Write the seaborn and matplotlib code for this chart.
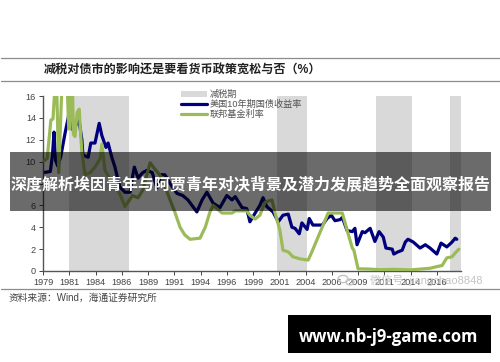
import matplotlib

matplotlib.use("Agg")

import matplotlib.pyplot as plt
import seaborn as sns
from matplotlib.lines import Line2D
from matplotlib.patches import Circle, Patch, Rectangle

W, H = 500, 362

TITLE = "减税对债市的影响还是要看货币政策宽松与否（%）"
SOURCE = "资料来源：Wind，海通证券研究所"
BANNER = "深度解析埃因青年与阿贾青年对决背景及潜力发展趋势全面观察报告"
SITE = "www.nb-j9-game.com"
WATERMARK = "微信号: jiangchao8848"
LEGEND_LABELS = ["减税期", "美国10年期国债收益率", "联邦基金利率"]

TICK_POS = [1979, 1981.5, 1984, 1986.5, 1989, 1991.5, 1994, 1996.5,
            1999, 2001.5, 2004, 2006.5, 2009, 2011.5, 2014, 2016.5]
TICK_LABELS = ["1979", "1981", "1984", "1986", "1989", "1991", "1994", "1996",
               "1999", "2001", "2004", "2006", "2009", "2011", "2014", "2016"]
Y_TICKS = [0, 2, 4, 6, 8, 10, 12, 14, 16]

CUT_START = [1981.5, 2001.3, 2010.7, 2017.8]
CUT_END = [1987.2, 2004.1, 2014.1, 2018.85]

T10_YEAR = [1979.0, 1979.4, 1979.7, 1979.9, 1980.05, 1980.2, 1980.4, 1980.7, 1981.1, 1981.4,
            1981.55, 1981.85, 1982.25, 1982.35, 1982.7, 1982.8, 1983.3, 1983.55, 1983.95, 1984.35,
            1984.6, 1985.0, 1985.2, 1985.55, 1985.85, 1986.3, 1986.8, 1987.3, 1987.5, 1987.7,
            1988.05, 1988.5, 1988.9, 1989.4, 1989.85, 1990.25, 1990.6, 1991.1, 1991.75, 1992.3,
            1992.8, 1993.65, 1994.15, 1994.6, 1995.2, 1995.85, 1996.5, 1997.0, 1997.3, 1997.95,
            1998.4, 1998.7, 1999.2, 1999.65, 1999.95, 2000.3, 2000.9, 2001.4, 2001.85, 2002.35,
            2002.7, 2003.0, 2003.4, 2003.65, 2004.15, 2004.35, 2004.7, 2005.2, 2005.6, 2006.05,
            2006.45, 2006.8, 2007.3, 2007.5, 2007.95, 2008.45, 2008.7, 2008.9, 2009.4, 2009.65,
            2010.15, 2010.6, 2011.0, 2011.4, 2011.65, 2012.25, 2012.4, 2012.8, 2013.2, 2013.5,
            2013.75, 2014.25, 2014.9, 2015.4, 2015.85, 2016.5, 2016.9, 2017.45, 2017.95, 2018.25,
            2018.4]
T10_RATE = [9.0, 9.05, 9.1, 10.6, 12.7, 10.1, 9.6, 10.5, 12.6, 14.0,
            15.2, 12.9, 13.5, 14.3, 12.0, 10.6, 10.4, 11.7, 11.7, 13.5,
            12.4, 11.3, 11.7, 10.4, 9.5, 7.7, 7.2, 7.2, 8.5, 9.5,
            8.5, 9.0, 9.2, 9.0, 7.6, 8.8, 8.8, 8.0, 7.1, 6.9,
            6.5, 5.4, 6.5, 7.2, 6.2, 5.8, 6.9, 6.5, 6.8, 5.8,
            5.7, 4.5, 5.3, 6.0, 6.7, 5.9, 5.4, 4.5, 5.1, 5.2,
            4.0, 3.9, 3.4, 4.4, 3.8, 4.8, 4.2, 4.2, 4.2, 4.8,
            5.1, 4.6, 4.7, 4.9, 3.7, 3.6, 3.9, 2.4, 3.6, 3.5,
            3.9, 2.7, 3.6, 3.1, 2.1, 2.0, 1.55, 1.75, 1.9, 2.65,
            2.9, 2.65, 2.1, 2.4, 2.1, 1.55, 2.55, 2.2, 2.65, 3.0,
            2.9]

FED_YEAR = [1979.0, 1979.4, 1979.75, 1979.95, 1980.15, 1980.3, 1980.5, 1980.8, 1981.3, 1981.45,
            1981.55, 1981.65, 1981.8, 1981.9, 1982.05, 1982.25, 1982.45, 1982.55, 1982.7, 1983.0,
            1983.5, 1983.95, 1984.45, 1984.6, 1984.9, 1985.65, 1986.3, 1986.8, 1987.1, 1987.5,
            1988.05, 1988.5, 1989.2, 1989.5, 1990.35, 1990.9, 1991.3, 1991.55, 1992.05, 1992.5,
            1993.0, 1993.95, 1994.45, 1994.9, 1995.2, 1996.05, 1997.0, 1997.3, 1998.4, 1998.7,
            1999.2, 1999.65, 2000.15, 2000.8, 2001.1, 2001.55, 2001.85, 2002.35, 2002.8, 2003.5,
            2004.25, 2004.6, 2006.15, 2007.5, 2007.95, 2008.45, 2008.6, 2009.0, 2010.0, 2011.1,
            2012.5, 2014.0, 2015.85, 2016.5, 2017.0, 2017.45, 2017.95, 2018.25, 2018.6]
FED_RATE = [10.0, 10.3, 13.8, 13.9, 17.0, 17.0, 9.0, 17.0, 17.0, 13.0,
            13.0, 17.0, 17.0, 12.5, 12.3, 14.5, 14.8, 13.0, 10.9, 8.8,
            9.0, 9.5, 10.3, 11.6, 9.2, 8.0, 7.1, 5.9, 6.3, 6.9,
            6.7, 7.4, 9.9, 9.5, 8.5, 7.0, 6.0, 5.4, 4.0, 3.3,
            2.9, 3.0, 4.0, 5.4, 6.0, 5.3, 5.3, 5.5, 5.5, 5.1,
            4.75, 5.1, 6.3, 6.5, 5.3, 3.75, 1.9, 1.75, 1.3, 1.1,
            1.0, 1.75, 5.3, 5.3, 3.75, 2.1, 1.9, 0.2, 0.18, 0.12,
            0.15, 0.1, 0.25, 0.4, 0.5, 1.2, 1.3, 1.65, 2.0]

NAVY = "#00007f"
GREEN = "#9bbb59"
SHADE = "#d9d9d9"
CJK = ["Liberation Sans", "Noto Sans CJK SC"]


def fx(px):
    return px / W


def fy(py):
    return 1 - py / H


def main() -> None:
    sns.set_theme(style="white")
    plt.rcParams["font.family"] = CJK

    fig = plt.figure(figsize=(W / 100, H / 100), dpi=100, facecolor="white")
    ax = fig.add_axes([fx(43), fy(271), (461 - 43) / W, (271 - 96) / H])

    for start, end in zip(CUT_START, CUT_END):
        ax.axvspan(start, end, color=SHADE, lw=0, zorder=0)

    sns.lineplot(x=T10_YEAR, y=T10_RATE, ax=ax, color=NAVY, linewidth=2.3,
                 estimator=None, sort=False, zorder=2)
    sns.lineplot(x=FED_YEAR, y=FED_RATE, ax=ax, color=GREEN, linewidth=2.3,
                 estimator=None, sort=False, zorder=3)

    ax.set_xlim(1979, 2018.8)
    ax.set_ylim(0, 16)
    ax.set_xticks(TICK_POS, TICK_LABELS)
    ax.set_yticks(Y_TICKS)
    ax.set_facecolor("white")
    ax.tick_params(axis="both", labelsize=6.6, colors="#444444", length=3, width=0.7,
                   pad=2, direction="out", bottom=True, left=True)
    ax.spines["top"].set_visible(False)
    ax.spines["right"].set_visible(False)
    for side in ["left", "bottom"]:
        ax.spines[side].set_color("#555555")
        ax.spines[side].set_linewidth(1.0)

    handles = [
        Patch(color=SHADE, lw=0),
        Line2D([], [], color=NAVY, lw=2.3),
        Line2D([], [], color=GREEN, lw=2.3),
    ]
    ax.legend(handles, LEGEND_LABELS, loc="upper left", bbox_to_anchor=(fx(181), fy(90)),
              bbox_transform=fig.transFigure, frameon=False, fontsize=6.6,
              labelcolor="#555555", handlelength=2.8, handletextpad=0.35,
              labelspacing=0.08, borderpad=0, borderaxespad=0)

    # rules and header / footer
    for py in [58, 81, 289]:
        fig.add_artist(Line2D([fx(1), 1], [fy(py), fy(py)], color="#8c8c8c", lw=0.9,
                              transform=fig.transFigure, zorder=4))
    fig.text(fx(44), fy(70), TITLE, fontsize=8.7, fontweight="bold", color="#222222",
             va="center", ha="left", zorder=4)
    fig.text(fx(9), fy(298), SOURCE, fontsize=7, color="#444444", va="center", ha="left", zorder=4)

    # weixin watermark over the tick labels
    fig.text(fx(482), fy(280), WATERMARK, fontsize=8, color="#c4c4c4", va="center", ha="right",
             zorder=5)
    for cx, cy, r in [(343, 279, 5), (350, 282, 4)]:
        fig.add_artist(Circle((fx(cx), fy(cy)), r / W, transform=fig.transFigure, fill=False,
                              ec="#c4c4c4", lw=1, zorder=5))

    # banner across the middle
    fig.add_artist(Rectangle((fx(10), fy(211)), 481 / W, 59 / H, transform=fig.transFigure,
                             facecolor="black", alpha=0.58, lw=0, zorder=6))
    fig.text(fx(250.5), fy(185), BANNER, fontsize=11.5, fontweight="bold", color="white",
             va="center", ha="center", zorder=7)

    # site badge
    fig.add_artist(Rectangle((fx(288), fy(353)), 203 / W, 38 / H, transform=fig.transFigure,
                             facecolor="black", lw=0, zorder=6))
    fig.text(fx(389), fy(336.5), SITE, fontsize=12, fontweight="bold", color="white",
             family="Open Sans", va="center", ha="center", zorder=7)

    fig.savefig("out.png", dpi=100)


if __name__ == "__main__":
    main()
